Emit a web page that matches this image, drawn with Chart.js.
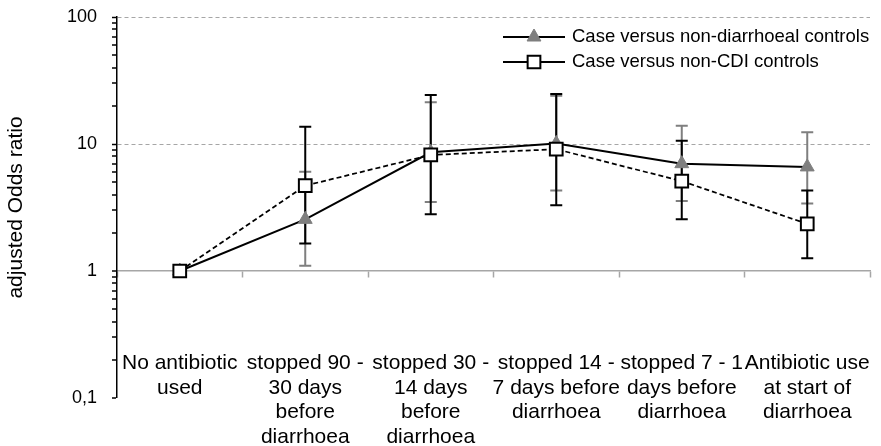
<!DOCTYPE html>
<html>
<head>
<meta charset="utf-8">
<script src="https://cdn.jsdelivr.net/npm/chart.js@4.4.0/dist/chart.umd.min.js"></script>
<style>
    html, body { margin: 0; padding: 0; background: #fff; }
</style>
</head>
<body>
<canvas id="odds-chart" width="881" height="446"></canvas>
<script>
// Exposure windows (x categories)
const categories = [
    ['No antibiotic', 'used'],
    ['stopped 90 -', '30 days', 'before', 'diarrhoea'],
    ['stopped 30 -', '14 days', 'before', 'diarrhoea'],
    ['stopped 14 -', '7 days before', 'diarrhoea'],
    ['stopped 7 - 1', 'days before', 'diarrhoea'],
    ['Antibiotic use', 'at start of', 'diarrhoea']
];

// Case versus non-diarrhoeal controls
const nonDiarrhoealOR = [1, 2.55, 8.6, 10.1, 7.0, 6.6];
const nonDiarrhoealLow = [null, 1.1, 3.5, 4.3, 3.55, 3.4];
const nonDiarrhoealHigh = [null, 6.05, 21.3, 24.0, 13.9, 12.4];

// Case versus non-CDI controls
const nonCdiOR = [1, 4.7, 8.2, 9.1, 5.1, 2.35];
const nonCdiLow = [null, 1.65, 2.8, 3.3, 2.55, 1.26];
const nonCdiHigh = [null, 13.7, 24.3, 24.8, 10.6, 4.3];

// Labelled y ticks
const yTickValues = [0.1, 1, 10, 100];
const yTickLabels = ['0,1', '1', '10', '100'];

const GREY = '#7f7f7f';
const GRID_GREY = '#a6a6a6';

Chart.defaults.font.family = "'Liberation Sans', Arial, sans-serif";
Chart.defaults.color = '#000';

/**
 * Draw confidence-interval whiskers under the lines and markers
 */
const errorBarsPlugin = {
    id: 'errorBars',
    beforeDatasetsDraw(chart) {
        const { ctx } = chart;
        const x = chart.scales.x;
        const y = chart.scales.y;
        const series = [
            { low: nonDiarrhoealLow, high: nonDiarrhoealHigh, color: GREY },
            { low: nonCdiLow, high: nonCdiHigh, color: '#000' }
        ];

        series.forEach(s => {
            ctx.save();
            ctx.strokeStyle = s.color;
            ctx.lineWidth = 2;
            s.low.forEach((lo, i) => {
                const hi = s.high[i];
                if (lo == null || hi == null) return;
                const px = x.getPixelForValue(i);
                const yLo = y.getPixelForValue(lo);
                const yHi = y.getPixelForValue(hi);
                ctx.beginPath();
                ctx.moveTo(px, yLo);
                ctx.lineTo(px, yHi);
                ctx.moveTo(px - 6, yLo);
                ctx.lineTo(px + 6, yLo);
                ctx.moveTo(px - 6, yHi);
                ctx.lineTo(px + 6, yHi);
                ctx.stroke();
            });
            ctx.restore();
        });
    }
};

/**
 * Legend inside the plot: a solid line with the marker in the middle
 */
const lineLegendPlugin = {
    id: 'lineLegend',
    afterDraw(chart) {
        const { ctx, chartArea } = chart;
        const x0 = chartArea.right - 367;

        chart.data.datasets.forEach((ds, i) => {
            const cy = chartArea.top + 20 + i * 25;
            const mx = x0 + 31;

            ctx.save();
            ctx.strokeStyle = '#000';
            ctx.lineWidth = 2;
            ctx.beginPath();
            ctx.moveTo(x0, cy);
            ctx.lineTo(x0 + 62, cy);
            ctx.stroke();

            ctx.fillStyle = ds.pointBackgroundColor;
            ctx.strokeStyle = ds.pointBorderColor;
            ctx.lineWidth = ds.pointBorderWidth;
            ctx.beginPath();
            if (ds.pointStyle === 'triangle') {
                const r = ds.pointRadius;
                ctx.moveTo(mx, cy - r);
                ctx.lineTo(mx + r * 0.866, cy + r / 2);
                ctx.lineTo(mx - r * 0.866, cy + r / 2);
                ctx.closePath();
            } else {
                const h = ds.pointRadius * Math.SQRT1_2;
                ctx.rect(mx - h, cy - h, 2 * h, 2 * h);
            }
            ctx.fill();
            ctx.stroke();

            ctx.fillStyle = '#000';
            ctx.font = "18.5px 'Liberation Sans', Arial, sans-serif";
            ctx.textBaseline = 'middle';
            ctx.fillText(ds.label, x0 + 69, cy);
            ctx.restore();
        });
    }
};

function isDecadeTick(value) {
    return value === 10 || value === 100;
}

new Chart(document.getElementById('odds-chart'), {
    type: 'line',
    data: {
        labels: categories,
        datasets: [
            {
                label: 'Case versus non-diarrhoeal controls',
                data: nonDiarrhoealOR,
                borderColor: '#000',
                borderWidth: 2,
                pointStyle: 'triangle',
                pointRadius: 8,
                pointBackgroundColor: GREY,
                pointBorderColor: GREY,
                pointBorderWidth: 1,
                order: 1
            },
            {
                label: 'Case versus non-CDI controls',
                data: nonCdiOR,
                borderColor: '#000',
                borderWidth: 1.75,
                borderDash: [5, 3],
                pointStyle: 'rect',
                pointRadius: 9,
                pointBackgroundColor: '#fff',
                pointBorderColor: '#000',
                pointBorderWidth: 2,
                order: 0
            }
        ]
    },
    options: {
        responsive: false,
        animation: false,
        layout: { padding: { left: 0, right: 1, top: 17, bottom: 48 } },
        plugins: {
            legend: { display: false },
            tooltip: { enabled: false }
        },
        scales: {
            // category labels, hung from the 0,1 line and reaching up into the plot
            x: {
                type: 'category',
                position: { y: 0.1 },
                offset: true,
                grid: { display: false },
                border: { display: false },
                ticks: {
                    autoSkip: false,
                    maxRotation: 0,
                    minRotation: 0,
                    padding: -55,
                    font: { size: 21, lineHeight: 1.167 }
                }
            },
            // grey axis line crossing at 1, ticks between categories
            xLine: {
                type: 'category',
                axis: 'x',
                position: { y: 1 },
                offset: true,
                ticks: { display: false },
                grid: {
                    offset: true,
                    drawOnChartArea: false,
                    tickLength: 6,
                    tickColor: GRID_GREY,
                    tickWidth: 1.5
                },
                border: { color: GRID_GREY, width: 1.5 }
            },
            y: {
                type: 'logarithmic',
                min: 0.1,
                max: 100,
                afterBuildTicks(scale) {
                    // keep 1..9 per decade, drop the 1.5 / 15 steps
                    scale.ticks = scale.ticks.filter(t => {
                        const m = t.value / Math.pow(10, Math.floor(Math.log10(t.value) + 1e-9));
                        return Math.abs(m - Math.round(m)) < 1e-6;
                    });
                },
                afterFit(scale) {
                    scale.width = 117;
                    scale.paddingTop = 0;
                    scale.paddingBottom = 0;
                },
                ticks: {
                    autoSkip: false,
                    padding: 15,
                    font: { size: 18 },
                    callback: value => {
                        const idx = yTickValues.findIndex(v => Math.abs(v - value) < 1e-9);
                        return idx >= 0 ? yTickLabels[idx] : '';
                    }
                },
                grid: {
                    color: GRID_GREY,
                    lineWidth: ctx => (ctx.tick && isDecadeTick(ctx.tick.value)) ? 1 : 0,
                    tickColor: '#000',
                    tickWidth: 1.5,
                    tickLength: 5
                },
                border: { color: '#000', width: 1.5, dash: [4, 3] },
                title: {
                    display: true,
                    text: 'adjusted Odds ratio',
                    font: { size: 21 },
                    padding: { top: 4, bottom: 4 }
                }
            }
        }
    },
    plugins: [errorBarsPlugin, lineLegendPlugin]
});
</script>
</body>
</html>
